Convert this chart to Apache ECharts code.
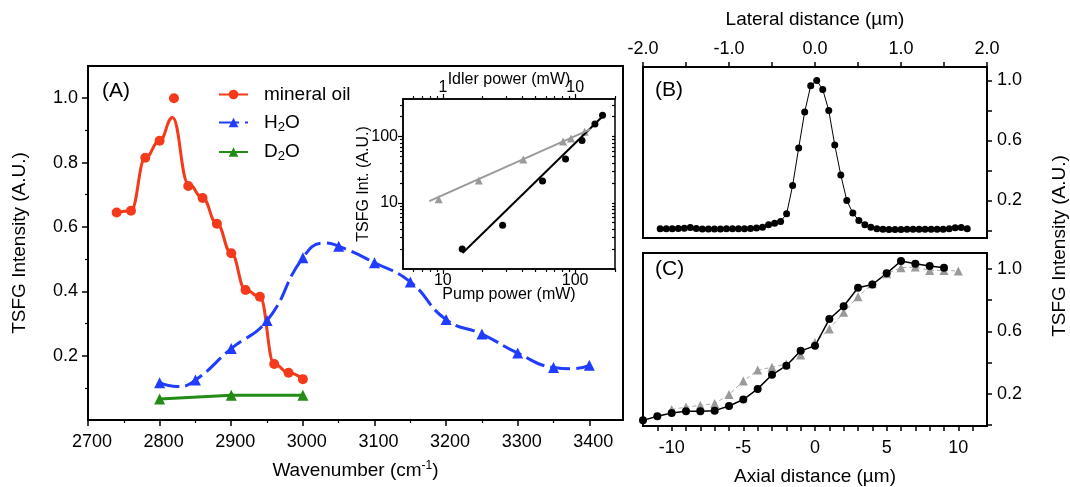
<!DOCTYPE html>
<html>
<head>
<meta charset="utf-8">
<script src="https://cdn.jsdelivr.net/npm/echarts@6.0.0/dist/echarts.min.js"></script>
<style>
html,body{margin:0;padding:0;background:#fff;}
#chart{width:1070px;height:487px;}
</style>
</head>
<body>
<div id="chart"></div>
<script>
// ---------- Panel A: spectra ----------
const wnOil = [2740, 2760, 2780, 2800, 2820, 2840, 2860, 2880, 2900, 2920, 2940, 2960, 2980, 3000];
const oilInt = [0.645, 0.65, 0.815, 0.868, 1.0, 0.727, 0.69, 0.61, 0.518, 0.404, 0.383, 0.174, 0.147, 0.127];
const wnOilFit = [2740, 2760, 2780, 2800, 2818, 2840, 2860, 2880, 2900, 2920, 2940, 2960, 2980, 3000];
const oilFit = [0.645, 0.65, 0.815, 0.868, 0.94, 0.735, 0.69, 0.61, 0.518, 0.404, 0.383, 0.174, 0.147, 0.127];

const wnH2O = [2800, 2850, 2900, 2950, 3000, 3050, 3100, 3150, 3200, 3250, 3300, 3350, 3400];
const h2oInt = [0.116, 0.124, 0.222, 0.309, 0.504, 0.54, 0.489, 0.429, 0.312, 0.267, 0.208, 0.163, 0.17];
const wnH2OFit = [2800, 2825, 2850, 2900, 2950, 3000, 3030, 3050, 3100, 3150, 3200, 3250, 3300, 3350, 3375, 3400];
const h2oFit = [0.116, 0.104, 0.124, 0.222, 0.309, 0.504, 0.55, 0.54, 0.489, 0.429, 0.312, 0.267, 0.208, 0.163, 0.159, 0.17];

const wnD2O = [2800, 2900, 3000];
const d2oInt = [0.065, 0.077, 0.077];

const aXTicks = [2700, 2800, 2900, 3000, 3100, 3200, 3300, 3400];
const aXMinor = [2750, 2850, 2950, 3050, 3150, 3250, 3350];
const aYTicks = [0.2, 0.4, 0.6, 0.8, 1.0];
const aYMinor = [0.1, 0.3, 0.5, 0.7, 0.9];

// ---------- Inset: power dependence ----------
const pumpPower = [14.0, 28.3, 56.7, 84.6, 112.7, 141, 161];
const tsfgPump = [2.0, 4.6, 21.4, 46, 87, 155, 211];
const pumpFitX = [14.1, 158];
const pumpFitY = [1.74, 195];
const idlerPower = [0.93, 1.87, 4.05, 8.1, 9.3, 11.8];
const tsfgIdler = [11.3, 21.8, 45, 84, 94, 118];
const idlerFitX = [0.79, 13.1];
const idlerFitY = [10.6, 130];

const insetXTicks = [10, 100];
const insetXMinor = [6, 7, 8, 9, 20, 30, 40, 50, 60, 70, 80, 90, 200];
const insetTopTicks = [1, 10];
const insetTopMinor = [0.6, 0.7, 0.8, 0.9, 2, 3, 4, 5, 6, 7, 8, 9, 20];
const insetYTicks = [10, 100];
const insetYMinor = [2, 3, 4, 5, 6, 7, 8, 9, 20, 30, 40, 50, 60, 70, 80, 90, 200, 300];

// ---------- Panel B: lateral profile ----------
const latX = [-1.80, -1.73, -1.66, -1.59, -1.52, -1.45, -1.38, -1.31, -1.24, -1.17, -1.10, -1.03, -0.96, -0.89, -0.82, -0.75, -0.68,
  -0.61, -0.54, -0.47, -0.40, -0.33, -0.26, -0.19, -0.12, -0.05, 0.02, 0.09, 0.16, 0.23, 0.30, 0.37, 0.44, 0.51, 0.58, 0.65,
  0.72, 0.79, 0.86, 0.93, 1.00, 1.07, 1.14, 1.21, 1.28, 1.35, 1.42, 1.49, 1.56, 1.63, 1.70, 1.77];
const latY = [0.012, 0.012, 0.012, 0.014, 0.015, 0.02, 0.013, 0.01, 0.01, 0.01, 0.01, 0.011, 0.012, 0.012, 0.012, 0.013, 0.016,
  0.022, 0.038, 0.049, 0.06, 0.111, 0.30, 0.55, 0.79, 0.965, 1.0, 0.94, 0.80, 0.57, 0.37, 0.20, 0.116, 0.067, 0.038, 0.022,
  0.012, 0.008, 0.006, 0.006, 0.007, 0.008, 0.008, 0.008, 0.008, 0.008, 0.008, 0.009, 0.012, 0.018, 0.02, 0.012];
const bXLabels = [-2, -1, 0, 1, 2];
const bXTicks = [-2, -1.5, -1, -0.5, 0, 0.5, 1, 1.5, 2];
const bYLabels = [0.2, 0.6, 1.0];
const bYTicks = [0, 0.2, 0.4, 0.6, 0.8, 1.0];

// ---------- Panel C: axial profile ----------
const axialX = [-12, -11, -10, -9, -8, -7, -6, -5, -4, -3, -2, -1, 0, 1, 2, 3, 4, 5, 6, 7, 8, 9];
const axialBlack = [0.031, 0.057, 0.078, 0.089, 0.089, 0.093, 0.123, 0.164, 0.232, 0.322, 0.38, 0.475, 0.507, 0.678, 0.76, 0.878, 0.899, 0.97, 1.049, 1.032, 1.017, 1.006];
const axialGrayX = [-10, -9, -8, -7, -6, -5, -4, -3, -2, -1, 0, 1, 2, 3, 4, 5, 6, 7, 8, 9, 10];
const axialGray = [0.1, 0.116, 0.127, 0.138, 0.196, 0.282, 0.352, 0.37, 0.391, 0.449, 0.528, 0.614, 0.721, 0.82, 0.903, 0.968, 1.006, 1.01, 0.989, 0.989, 0.985];
const cXLabels = [-10, -5, 0, 5, 10];
const cXTicks = [-11, -10, -9, -8, -7, -6, -5, -4, -3, -2, -1, 0, 1, 2, 3, 4, 5, 6, 7, 8, 9, 10, 11];
const cYLabels = [0.2, 0.6, 1.0];
const cYTicks = [0, 0.2, 0.4, 0.6, 0.8, 1.0];

// ---------- styling ----------
const FONT = '"Liberation Sans", Arial, Helvetica, sans-serif';
const RED = '#f43a1a';
const BLUE = '#1f3cff';
const GREEN = '#238c17';
const GRAY = '#9a9a9a';
const pts = (xs, ys) => xs.map((x, i) => [x, ys[i]]);
const lbl = (size) => ({color: '#000', fontFamily: FONT, fontSize: size});

function mainAxis(o) {
  return Object.assign({
    axisLine: {show: true, onZero: false, lineStyle: {color: '#000', width: 2}},
    splitLine: {show: false},
    axisTick: {show: true, lineStyle: {color: '#000', width: 1.5}},
    nameMoveOverlap: false,
    nameTextStyle: lbl(19)
  }, o);
}
function minorAxis(o, vals, len, inside) {
  return Object.assign({
    axisLine: {show: false},
    splitLine: {show: false},
    axisLabel: {show: false},
    axisTick: {show: true, customValues: vals, length: len, inside: !!inside, lineStyle: {color: '#000', width: 1.2}}
  }, o);
}

const chart = echarts.init(document.getElementById('chart'), null, {renderer: 'canvas'});
const option = {
  animation: false,
  backgroundColor: '#fff',
  textStyle: {fontFamily: FONT},
  grid: [
    {left: 88, top: 66, width: 535, height: 358, show: true, borderColor: '#000', borderWidth: 2},
    {left: 403, top: 99, width: 212, height: 170, show: true, borderColor: '#000', borderWidth: 1.5},
    {left: 643, top: 67, width: 344, height: 171, show: true, borderColor: '#000', borderWidth: 2},
    {left: 643, top: 253, width: 344, height: 173, show: true, borderColor: '#000', borderWidth: 2}
  ],
  legend: {
    data: ['mineral oil', 'H2O', 'D2O'],
    orient: 'vertical', left: 213, top: 80,
    itemWidth: 29, itemHeight: 12, itemGap: 9,
    selectedMode: false,
    formatter: n => n === 'H2O' ? '{n|H}{s|2}{n|O}' : n === 'D2O' ? '{n|D}{s|2}{n|O}' : '{n|' + n + '}',
    textStyle: {
      padding: [0, 0, 0, 11],
      rich: {
        n: {fontSize: 19, lineHeight: 22, fontFamily: FONT, color: '#000'},
        s: {fontSize: 13, lineHeight: 10, verticalAlign: 'bottom', fontFamily: FONT, color: '#000'}
      }
    }
  },
  xAxis: [
    mainAxis({gridIndex: 0, type: 'value', min: 2700, max: 3447, position: 'bottom',
      axisTick: {show: true, customValues: aXTicks, length: 6, lineStyle: {color: '#000', width: 1.5}},
      axisLabel: Object.assign(lbl(18), {customValues: aXTicks, margin: 13, padding: [0, 0, 0, 8], formatter: v => String(Math.round(v))}),
      name: 'Wavenumber (cm{sup|-1})', nameLocation: 'middle', nameGap: 40,
      nameTextStyle: Object.assign(lbl(19), {lineHeight: 22, rich: {sup: {fontSize: 12, lineHeight: 10, verticalAlign: 'top', fontFamily: FONT, color: '#000'}}})}),
    minorAxis({gridIndex: 0, type: 'value', min: 2700, max: 3447, position: 'bottom'}, aXMinor, 3),
    mainAxis({gridIndex: 1, type: 'log', logBase: 10, min: 5, max: 200, position: 'bottom',
      axisLine: {show: true, onZero: false, lineStyle: {color: '#000', width: 1.5}},
      axisTick: {show: true, customValues: insetXTicks, length: 5, lineStyle: {color: '#000', width: 1.2}},
      axisLabel: Object.assign(lbl(16), {customValues: insetXTicks, margin: 4, formatter: v => String(Math.round(v))}),
      name: 'Pump power (mW)', nameLocation: 'middle', nameGap: 18, nameTextStyle: lbl(16)}),
    minorAxis({gridIndex: 1, type: 'log', logBase: 10, min: 5, max: 200, position: 'bottom'}, insetXMinor, 3),
    mainAxis({gridIndex: 1, type: 'log', logBase: 10, min: 0.5, max: 20, position: 'top',
      axisLine: {show: true, onZero: false, lineStyle: {color: '#000', width: 1.5}},
      axisTick: {show: true, customValues: insetTopTicks, length: 5, lineStyle: {color: '#000', width: 1.2}},
      axisLabel: Object.assign(lbl(16), {customValues: insetTopTicks, margin: 3, formatter: v => String(Math.round(v))}),
      name: 'Idler power (mW)', nameLocation: 'middle', nameGap: 11, nameTextStyle: lbl(16)}),
    minorAxis({gridIndex: 1, type: 'log', logBase: 10, min: 0.5, max: 20, position: 'top'}, insetTopMinor, 3),
    mainAxis({gridIndex: 2, type: 'value', min: -2, max: 2, position: 'top',
      axisTick: {show: true, customValues: bXTicks, length: 5, lineStyle: {color: '#000', width: 1.5}},
      axisLabel: Object.assign(lbl(18), {customValues: bXLabels, margin: 9, formatter: v => v.toFixed(1)}),
      name: 'Lateral distance (µm)', nameLocation: 'middle', nameGap: 38}),
    mainAxis({gridIndex: 3, type: 'value', min: -12, max: 12, position: 'bottom',
      axisTick: {show: true, customValues: cXTicks, length: 5, lineStyle: {color: '#000', width: 1.5}},
      axisLabel: Object.assign(lbl(18), {customValues: cXLabels, margin: 13}),
      name: 'Axial distance (µm)', nameLocation: 'middle', nameGap: 41})
  ],
  yAxis: [
    mainAxis({gridIndex: 0, type: 'value', min: 0, max: 1.1, position: 'left',
      axisTick: {show: true, customValues: aYTicks, length: 6, lineStyle: {color: '#000', width: 1.5}},
      axisLabel: Object.assign(lbl(18), {customValues: aYTicks, margin: 10, formatter: v => v.toFixed(1)}),
      name: 'TSFG Intensity (A.U.)', nameLocation: 'middle', nameGap: 59}),
    minorAxis({gridIndex: 0, type: 'value', min: 0, max: 1.1, position: 'left'}, aYMinor, 3),
    mainAxis({gridIndex: 1, type: 'log', logBase: 10, min: 1, max: 370, position: 'left',
      axisLine: {show: true, onZero: false, lineStyle: {color: '#000', width: 1.5}},
      axisTick: {show: true, customValues: insetYTicks, length: 5, lineStyle: {color: '#000', width: 1.2}},
      axisLabel: Object.assign(lbl(16), {customValues: insetYTicks, margin: 5, formatter: v => String(Math.round(v))}),
      name: 'TSFG Int. (A.U.)', nameLocation: 'middle', nameGap: 31, nameTextStyle: lbl(16)}),
    minorAxis({gridIndex: 1, type: 'log', logBase: 10, min: 1, max: 370, position: 'left'}, insetYMinor, 3),
    minorAxis({gridIndex: 1, type: 'log', logBase: 10, min: 1, max: 370, position: 'right'}, insetYTicks.concat(insetYMinor), 3, true),
    mainAxis({gridIndex: 2, type: 'value', min: -0.05, max: 1.09, position: 'right',
      axisTick: {show: true, customValues: bYTicks, length: 5, lineStyle: {color: '#000', width: 1.5}},
      axisLabel: Object.assign(lbl(18), {customValues: bYLabels, margin: 10, formatter: v => v.toFixed(1)})}),
    mainAxis({gridIndex: 3, type: 'value', min: -0.005, max: 1.1, position: 'right',
      axisTick: {show: true, customValues: cYTicks, length: 5, lineStyle: {color: '#000', width: 1.5}},
      axisLabel: Object.assign(lbl(18), {customValues: cYLabels, margin: 10, formatter: v => v.toFixed(1)})})
  ],
  series: [
    {name: 'mineral oil', type: 'line', xAxisIndex: 0, yAxisIndex: 0, data: pts(wnOilFit, oilFit), smooth: 0.45,
      smoothMonotone: 'x', symbol: 'circle', symbolSize: 10, showSymbol: false, silent: true,
      lineStyle: {color: RED, width: 3}, itemStyle: {color: RED}, z: 3},
    {name: 'mineral oil data', type: 'scatter', xAxisIndex: 0, yAxisIndex: 0, data: pts(wnOil, oilInt),
      symbol: 'circle', symbolSize: 10, itemStyle: {color: RED, opacity: 1}, silent: true, z: 4},
    {name: 'H2O', type: 'line', xAxisIndex: 0, yAxisIndex: 0, data: pts(wnH2OFit, h2oFit), smooth: 0.5,
      symbol: 'triangle', symbolSize: 11, showSymbol: false, silent: true,
      lineStyle: {color: BLUE, width: 3, type: [20, 6]}, itemStyle: {color: BLUE}, z: 3},
    {name: 'H2O data', type: 'scatter', xAxisIndex: 0, yAxisIndex: 0, data: pts(wnH2O, h2oInt),
      symbol: 'triangle', symbolSize: 11, itemStyle: {color: BLUE, opacity: 1}, silent: true, z: 4},
    {name: 'D2O', type: 'line', xAxisIndex: 0, yAxisIndex: 0, data: pts(wnD2O, d2oInt),
      symbol: 'triangle', symbolSize: 11, showSymbol: true, silent: true,
      lineStyle: {color: GREEN, width: 3}, itemStyle: {color: GREEN}, z: 3},

    {name: 'pump fit', type: 'line', xAxisIndex: 2, yAxisIndex: 2, data: pts(pumpFitX, pumpFitY),
      symbol: 'none', lineStyle: {color: '#000', width: 2}, silent: true},
    {name: 'pump data', type: 'scatter', xAxisIndex: 2, yAxisIndex: 2, data: pts(pumpPower, tsfgPump),
      symbol: 'circle', symbolSize: 7, itemStyle: {color: '#000', opacity: 1}, silent: true},
    {name: 'idler fit', type: 'line', xAxisIndex: 4, yAxisIndex: 2, data: pts(idlerFitX, idlerFitY),
      symbol: 'none', lineStyle: {color: GRAY, width: 2}, silent: true},
    {name: 'idler data', type: 'scatter', xAxisIndex: 4, yAxisIndex: 2, data: pts(idlerPower, tsfgIdler),
      symbol: 'triangle', symbolSize: 8, itemStyle: {color: GRAY, opacity: 1}, silent: true},

    {name: 'lateral', type: 'line', xAxisIndex: 6, yAxisIndex: 5, data: pts(latX, latY),
      symbol: 'circle', symbolSize: 7, showSymbol: true, lineStyle: {color: '#000', width: 1}, itemStyle: {color: '#000'}, silent: true},

    {name: 'axial gray', type: 'line', xAxisIndex: 7, yAxisIndex: 6, data: pts(axialGrayX, axialGray),
      symbol: 'triangle', symbolSize: 9, showSymbol: true, lineStyle: {color: '#aaaaaa', width: 1, type: [4, 3]}, itemStyle: {color: GRAY}, silent: true},
    {name: 'axial black', type: 'line', xAxisIndex: 7, yAxisIndex: 6, data: pts(axialX, axialBlack),
      symbol: 'circle', symbolSize: 8, showSymbol: true, lineStyle: {color: '#000', width: 1.5}, itemStyle: {color: '#000'}, silent: true}
  ],
  graphic: [
    {type: 'text', left: 102, top: 81, style: {text: '(A)', font: '21px ' + FONT, fill: '#000'}},
    {type: 'text', left: 655, top: 80, style: {text: '(B)', font: '21px ' + FONT, fill: '#000'}},
    {type: 'text', left: 655, top: 259, style: {text: '(C)', font: '21px ' + FONT, fill: '#000'}},
    {type: 'text', x: 1060, y: 246, rotation: Math.PI / 2,
      style: {text: 'TSFG Intensity (A.U.)', font: '19px ' + FONT, fill: '#000', textAlign: 'center', textVerticalAlign: 'middle'}}
  ]
};
chart.setOption(option);
</script>
</body>
</html>
